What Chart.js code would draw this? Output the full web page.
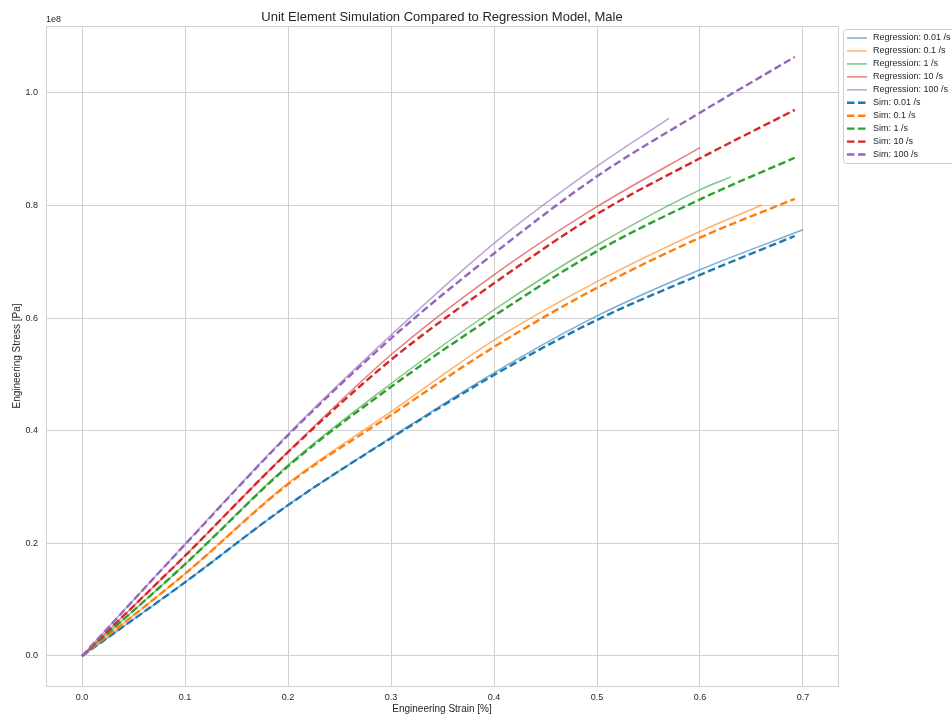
<!DOCTYPE html>
<html>
<head>
<meta charset="utf-8">
<script src="https://cdn.jsdelivr.net/npm/chart.js@4"></script>
<style>
  body { margin: 0; background: #fff; }
  #chart { display: block; }
</style>
</head>
<body>
<canvas id="chart" width="952" height="718"></canvas>
<script>
// stress values are in units of 1e8 Pa (offset label "1e8" drawn above the y axis)
const rates = ["0.01 /s", "0.1 /s", "1 /s", "10 /s", "100 /s"];
const colors = ["31,119,180", "255,127,14", "44,160,44", "214,39,40", "148,103,189"];

// regression model curves (each one stops at a different strain)
const regStrain001 = [0, 0.1, 0.2, 0.3, 0.4, 0.5, 0.6, 0.7];
const regStress001 = [0, 0.131, 0.268, 0.388, 0.503, 0.604, 0.686, 0.757];
const regStrain01 = [0, 0.1, 0.2, 0.3, 0.4, 0.5, 0.6, 0.66];
const regStress01 = [0, 0.146, 0.307, 0.434, 0.561, 0.665, 0.754, 0.801];
const regStrain1 = [0, 0.1, 0.2, 0.3, 0.4, 0.5, 0.6, 0.63];
const regStress1 = [0, 0.163, 0.339, 0.484, 0.615, 0.730, 0.828, 0.851];
const regStrain10 = [0, 0.1, 0.2, 0.3, 0.4, 0.5, 0.6];
const regStress10 = [0, 0.178, 0.363, 0.535, 0.677, 0.798, 0.903];
const regStrain100 = [0, 0.1, 0.2, 0.3, 0.4, 0.5, 0.57];
const regStress100 = [0, 0.199, 0.394, 0.570, 0.733, 0.870, 0.955];

// unit element simulation results
const simStrain = [0, 0.1, 0.2, 0.3, 0.4, 0.5, 0.6, 0.692];
const simStress001 = [0, 0.131, 0.268, 0.387, 0.499, 0.597, 0.677, 0.746];
const simStress01 = [0, 0.146, 0.305, 0.428, 0.549, 0.654, 0.743, 0.812];
const simStress1 = [0, 0.163, 0.337, 0.478, 0.604, 0.719, 0.811, 0.885];
const simStress10 = [0, 0.178, 0.362, 0.526, 0.662, 0.785, 0.884, 0.970];
const simStress100 = [0, 0.198, 0.392, 0.564, 0.715, 0.852, 0.965, 1.064];

const xTicks = [0, 0.1, 0.2, 0.3, 0.4, 0.5, 0.6, 0.7];
const yTicks = [0, 0.2, 0.4, 0.6, 0.8, 1.0];

const regStrains = [regStrain001, regStrain01, regStrain1, regStrain10, regStrain100];
const regStresses = [regStress001, regStress01, regStress1, regStress10, regStress100];
const simStresses = [simStress001, simStress01, simStress1, simStress10, simStress100];

const toPoints = (xs, ys) => xs.map((x, i) => ({x: x, y: ys[i]}));

let datasets = [];
rates.forEach((r, i) => {
  datasets.push({
    label: "Regression: " + r,
    data: toPoints(regStrains[i], regStresses[i]),
    borderColor: `rgba(${colors[i]},0.6)`,
    borderWidth: 1.5,
    sim: false
  });
});
rates.forEach((r, i) => {
  datasets.push({
    label: "Sim: " + r,
    data: toPoints(simStrain, simStresses[i]),
    borderColor: `rgb(${colors[i]})`,
    borderWidth: 2.4,
    borderDash: [7.5, 3.5],
    sim: true
  });
});
datasets.forEach((d, i) => {
  d.showLine = true;
  d.pointRadius = 0;
  d.cubicInterpolationMode = 'monotone';
  d.order = 20 - i; // later series on top
});

const textColor = '#262626';
const gridColor = '#d0d0d0';
const fontFamily = '"Liberation Sans", Arial, sans-serif';

// title, offset text and the legend outside the axes
const extras = {
  id: 'extras',
  afterDraw(chart) {
    const ctx = chart.ctx;
    const area = chart.chartArea;
    ctx.save();
    ctx.fillStyle = textColor;
    ctx.textAlign = 'center';
    ctx.textBaseline = 'middle';
    ctx.font = '13px ' + fontFamily;
    ctx.fillText("Unit Element Simulation Compared to Regression Model, Male", (area.left + area.right) / 2, 17);

    ctx.font = '9px ' + fontFamily;
    ctx.textAlign = 'left';
    ctx.fillText("1e8", area.left, 20);

    // legend box
    const lx = 843.5, ly = 29.5;
    ctx.beginPath();
    ctx.roundRect(lx, ly, 120, 134, 3);
    ctx.fillStyle = 'rgba(255,255,255,0.8)';
    ctx.fill();
    ctx.strokeStyle = '#cccccc';
    ctx.lineWidth = 1;
    ctx.stroke();

    chart.data.datasets.forEach((d, i) => {
      const y = 38 + i * 12.95;
      ctx.beginPath();
      ctx.strokeStyle = d.borderColor;
      ctx.lineWidth = d.borderWidth;
      ctx.setLineDash(d.sim ? [7.5, 3.5] : []);
      ctx.moveTo(847, y);
      ctx.lineTo(867, y);
      ctx.stroke();
      ctx.setLineDash([]);
      ctx.fillStyle = textColor;
      ctx.fillText(d.label, 873, y);
    });
    ctx.restore();
  }
};

const ctx = document.getElementById('chart').getContext('2d');
const myChart = new Chart(ctx, {
  type: 'scatter',
  data: { datasets: datasets },
  options: {
    responsive: false,
    animation: false,
    layout: { padding: { left: 0, top: 26, right: 114, bottom: 0 } },
    plugins: {
      legend: { display: false },
      tooltip: { enabled: false }
    },
    scales: {
      x: {
        type: 'linear',
        min: -0.035,
        max: 0.734,
        afterFit: (s) => { s.height = 32; },
        afterBuildTicks: (s) => { s.ticks = xTicks.map(v => ({value: v})); },
        ticks: {
          color: textColor,
          padding: 6,
          font: { size: 9, family: fontFamily },
          callback: (v) => v.toFixed(1)
        },
        grid: { color: gridColor, drawTicks: false },
        border: { color: gridColor },
        title: {
          display: true,
          text: 'Engineering Strain [%]',
          color: textColor,
          font: { size: 10, family: fontFamily },
          padding: { top: 0, bottom: 3 }
        }
      },
      y: {
        type: 'linear',
        min: -0.0533,
        max: 1.119,
        afterFit: (s) => { s.width = 46; },
        afterBuildTicks: (s) => { s.ticks = yTicks.map(v => ({value: v})); },
        ticks: {
          color: textColor,
          padding: 8,
          font: { size: 9, family: fontFamily },
          callback: (v) => v.toFixed(1)
        },
        grid: { color: gridColor, drawTicks: false },
        border: { color: gridColor },
        title: {
          display: true,
          text: 'Engineering Stress [Pa]',
          color: textColor,
          font: { size: 10, family: fontFamily },
          padding: { top: 11, bottom: 0 }
        }
      }
    }
  },
  plugins: [extras, {
    // right and top edges of the axes frame
    id: 'frame',
    afterDraw(chart) {
      const c = chart.ctx, a = chart.chartArea;
      c.save();
      c.strokeStyle = gridColor;
      c.lineWidth = 1;
      c.beginPath();
      c.moveTo(a.left, a.top + 0.5);
      c.lineTo(a.right + 0.5, a.top + 0.5);
      c.lineTo(a.right + 0.5, a.bottom);
      c.stroke();
      c.restore();
    }
  }]
});
</script>
</body>
</html>
